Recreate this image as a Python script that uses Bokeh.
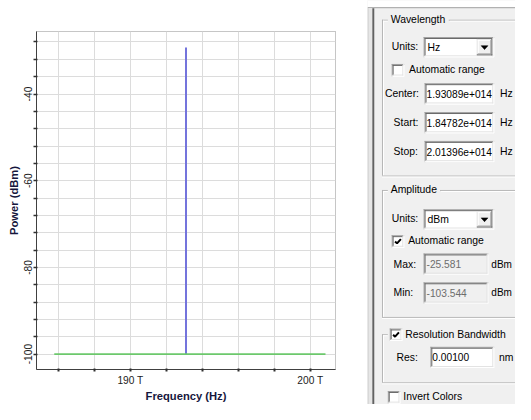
import math
from bokeh.plotting import figure
from bokeh.models import Range1d, FixedTicker, CustomJSTickFormatter
from bokeh.layouts import row
from bokeh.core.properties import value
from bokeh.embed import file_html
from bokeh.resources import INLINE

# ---------------- data ----------------
center_hz = 1.93089e14
start_hz = 1.84782e14
stop_hz = 2.01396e14
amp_max = -25.581
amp_min = -103.544
res_nm = 0.00100

signal_freq = [1.93089e14]
signal_power = [-29.3]
signal_floor = [-100.0]

noise_freq = [1.8577e14, 2.0084e14]
noise_power = [-100.0, -100.0]

x_ticks = [186e12, 188e12, 190e12, 192e12, 194e12, 196e12, 198e12, 200e12]
x_label_vals = [190e12, 200e12]
x_label_text = ["190 T", "200 T"]

y_ticks = [-100, -96, -92, -88, -84, -80, -76, -72, -68, -64, -60,
           -56, -52, -48, -44, -40, -36, -32, -28]
y_label_vals = [-100, -80, -60, -40]
y_label_text = ["-100", "-80", "-60", "-40"]

FONT_NAME = "Liberation Sans"
FONT = value(FONT_NAME)

W, H = 515, 404
CHART_W = 367

# ---------------- chart ----------------
p = figure(width=CHART_W, height=H,
           x_range=Range1d(start_hz, stop_hz), y_range=Range1d(amp_min, amp_max),
           output_backend="svg", toolbar_location=None,
           min_border_left=36, min_border_right=32, min_border_top=31, min_border_bottom=33)
try:
    p.frame_align = False
except Exception:
    pass
p.background_fill_color = "white"
p.border_fill_color = "white"
p.outline_line_color = "#8c8c8c"
p.outline_line_dash = "1 1"

fmt_js = """
for (let i = 0; i < vals.length; i++) {
  if (Math.abs(tick - vals[i]) < eps) { return labs[i]; }
}
return "";
"""
p.xaxis.ticker = FixedTicker(ticks=x_ticks, minor_ticks=[])
p.yaxis.ticker = FixedTicker(ticks=y_ticks, minor_ticks=[])
p.xaxis.formatter = CustomJSTickFormatter(args=dict(vals=x_label_vals, labs=x_label_text, eps=1e9), code=fmt_js)
p.yaxis.formatter = CustomJSTickFormatter(args=dict(vals=y_label_vals, labs=y_label_text, eps=1e-6), code=fmt_js)

p.grid.grid_line_color = "#dcdcdc"
p.grid.grid_line_width = 1

for ax in (p.xaxis, p.yaxis):
    ax.axis_line_color = "#404040"
    ax.axis_line_width = 1
    ax.major_tick_line_color = "#303030"
    ax.minor_tick_line_color = None
    ax.major_label_text_font = FONT_NAME
    ax.major_label_text_font_size = "10.2px"
    ax.major_label_text_color = "#222222"
    ax.axis_label_text_font = FONT_NAME
    ax.axis_label_text_font_size = "11.2px"
    ax.axis_label_text_font_style = "bold"
    ax.axis_label_text_color = "#16163c"

p.xaxis.axis_label = "Frequency (Hz)"
p.yaxis.axis_label = "Power (dBm)"
p.xaxis.major_label_standoff = 3
p.xaxis.axis_label_standoff = 1
p.yaxis.major_label_standoff = 1
p.yaxis.axis_label_standoff = 2
p.xaxis.major_tick_in = 1
p.xaxis.major_tick_out = 2
p.xaxis.major_tick_line_width = 2
p.yaxis.major_tick_in = 1
p.yaxis.major_tick_out = 3
p.yaxis.major_tick_line_width = 1.5
p.yaxis.major_label_orientation = "vertical"

p.segment(x0=signal_freq, y0=signal_floor, x1=signal_freq, y1=signal_power,
          line_color="#7474dc", line_width=2)
p.line(noise_freq, noise_power, line_color="#6cc86c", line_width=1.6)

# ---------------- side panel (drawn in reference pixel space) ----------------
RX0, RX1, RY0, RY1 = 378, 531, 0, 420
q = figure(width=W - CHART_W, height=H,
           x_range=Range1d(RX0, RX1), y_range=Range1d(RY1, RY0),
           output_backend="svg", toolbar_location=None,
           x_axis_location=None, y_axis_location=None,
           min_border=0, min_border_left=0, min_border_right=0,
           min_border_top=0, min_border_bottom=0)
try:
    q.frame_align = False
except Exception:
    pass
q.grid.visible = False
q.outline_line_color = None
q.background_fill_color = "#f0f0f0"
q.border_fill_color = "#f0f0f0"


def hl(x0, x1, y, c, w=1):
    q.segment(x0=[x0], y0=[y], x1=[x1], y1=[y], line_color=c, line_width=w)


def vl(x, y0, y1, c, w=1):
    q.segment(x0=[x], y0=[y0], x1=[x], y1=[y1], line_color=c, line_width=w)


def box(x0, y0, x1, y1, c):
    q.quad(left=[x0], right=[x1], top=[y0], bottom=[y1], fill_color=c, line_color=None)


def sunken(x0, y0, x1, y1, fill="white"):
    box(x0, y0, x1, y1, fill)
    hl(x0, x1, y0 + 0.5, "#a0a0a0"); vl(x0 + 0.5, y0, y1, "#a0a0a0")
    hl(x0 + 1, x1 - 1, y0 + 1.5, "#696969"); vl(x0 + 1.5, y0 + 1, y1 - 1, "#696969")
    hl(x0, x1, y1 - 0.5, "#ffffff"); vl(x1 - 0.5, y0, y1, "#ffffff")
    hl(x0 + 1, x1 - 1, y1 - 1.5, "#e3e3e3"); vl(x1 - 1.5, y0 + 1, y1 - 1, "#e3e3e3")


def raised(x0, y0, x1, y1):
    box(x0, y0, x1, y1, "#f0f0f0")
    hl(x0, x1, y0 + 0.5, "#e3e3e3"); vl(x0 + 0.5, y0, y1, "#e3e3e3")
    hl(x0 + 1, x1 - 1, y0 + 1.5, "#ffffff"); vl(x0 + 1.5, y0 + 1, y1 - 1, "#ffffff")
    hl(x0, x1, y1 - 0.5, "#696969"); vl(x1 - 0.5, y0, y1, "#696969")
    hl(x0 + 1, x1 - 1, y1 - 1.5, "#a0a0a0"); vl(x1 - 1.5, y0 + 1, y1 - 1, "#a0a0a0")


def txt(x, y, s, size="10.4px", color="#000000", align="left"):
    q.text(x=[x], y=[y], text=[s], text_font=FONT, text_font_size=value(size),
           text_color=color, text_align=align, text_baseline="middle")


def groupbox(x0, y0, y1, gap0, gap1):
    for (a, b) in ((x0, gap0), (gap1, RX1)):
        if b > a:
            hl(a, b, y0 + 0.5, "#b4b4b4"); hl(a + 1, b, y0 + 1.5, "#ffffff")
    vl(x0 + 0.5, y0, y1, "#b4b4b4"); vl(x0 + 1.5, y0 + 1, y1, "#ffffff")
    hl(x0, RX1, y1 + 0.5, "#b4b4b4"); hl(x0, RX1, y1 + 1.5, "#ffffff")


def combo(x0, y0, x1, y1, s):
    sunken(x0, y0, x1, y1)
    txt(x0 + 4, (y0 + y1) / 2, s)
    raised(x1 - 18, y0 + 2, x1 - 2, y1 - 2)
    cx, cy = x1 - 10, (y0 + y1) / 2
    q.patch(x=[cx - 3.5, cx + 3.5, cx], y=[cy - 1.5, cy - 1.5, cy + 2.5],
            fill_color="black", line_color="black", line_width=0.5)


def checkbox(x0, y0, checked):
    sunken(x0, y0, x0 + 13, y0 + 13)
    if checked:
        q.line(x=[x0 + 3.5, x0 + 5.5, x0 + 9.5], y=[y0 + 6.5, y0 + 8.5, y0 + 4],
               line_color="black", line_width=2)


def fmt_win(v):
    m, e = f"{v:.5e}".split("e")
    return f"{m}e{e[0]}{e[1:].zfill(3)}"


# top edge of the window frame and separator between chart and panel
box(RX0, 0, RX1, 7, "#ffffff")
hl(RX0, RX1, 7.5, "#a0a0a0")
box(378, 8, 383, RY1, "#e6e6e6")
vl(378.5, 8, RY1, "#c8c8c8")
box(383, 8, 385, RY1, "#626262")

# Wavelength group
groupbox(393, 20, 182, 399, 462)
txt(402, 20, "Wavelength")
txt(403, 48, "Units:")
combo(436, 38, 509, 59, "Hz")
checkbox(403, 66, False)
txt(421, 72, "Automatic range")
for lab, lx, yy, v in (("Center:", 396, 97, center_hz),
                       ("Start:", 405, 127, start_hz),
                       ("Stop:", 405, 157, stop_hz)):
    txt(lx, yy, lab)
    sunken(437, yy - 11, 509, yy + 11)
    txt(439, yy, fmt_win(v), size="10.2px")
    txt(515, yy, "Hz")

# Amplitude group
groupbox(393, 197, 329, 399, 453)
txt(402, 197, "Amplitude")
txt(403, 227, "Units:")
combo(436, 217, 509, 238, "dBm")
checkbox(403, 244, True)
txt(420, 250, "Automatic range")
for lab, yy, v in (("Max:", 274, amp_max), ("Min:", 304, amp_min)):
    txt(405, yy, lab)
    sunken(436, yy - 11, 503, yy + 11, fill="#f0f0f0")
    txt(439, yy, f"{v:.3f}", size="10.2px", color="#6d6d6d")
    txt(506, yy, "dBm", size="10px")

# Resolution bandwidth group
groupbox(393, 347, 397, 399, RX1)
checkbox(401, 341, True)
txt(417, 347, "Resolution Bandwidth")
txt(408, 371, "Res:")
sunken(443, 360, 509, 382)
txt(445, 371, f"{res_nm:.5f}", size="10.2px")
txt(514, 371, "nm")

# Invert colors
checkbox(399, 406, False)
txt(415, 412, "Invert Colors")

layout = row(p, q)
open("out.html", "w").write(file_html(layout, INLINE))
